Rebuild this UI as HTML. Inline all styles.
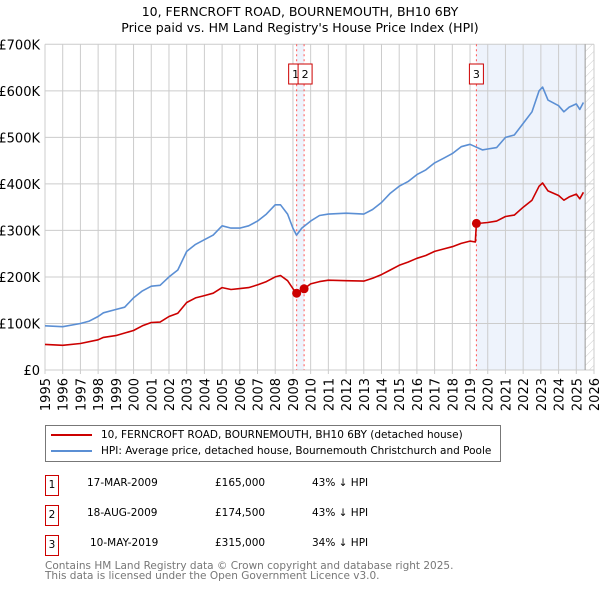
<!DOCTYPE html>
<html><head><meta charset="utf-8"><style>
body{margin:0;background:#fff;font-family:"DejaVu Sans","Liberation Sans",sans-serif;}
svg text{font-family:"DejaVu Sans","Liberation Sans",sans-serif;}
</style></head><body>
<svg id="c" width="600" height="590" xmlns="http://www.w3.org/2000/svg"></svg>
<script>
const hpiYears=[1995,1996,1997,1997.5,1998,1998.3,1999,1999.5,2000,2000.5,2001,2001.5,2002,2002.5,2003,2003.5,2004,2004.5,2005,2005.5,2006,2006.5,2007,2007.5,2008,2008.3,2008.7,2009,2009.2,2009.5,2010,2010.5,2011,2012,2013,2013.5,2014,2014.5,2015,2015.5,2016,2016.5,2017,2017.5,2018,2018.5,2019,2019.3,2019.7,2020,2020.5,2021,2021.5,2022,2022.5,2022.9,2023.1,2023.4,2024,2024.3,2024.6,2025,2025.2,2025.4];
const hpiValues=[95,93,100,105,115,123,130,135,155,170,180,182,200,215,255,270,280,290,310,305,305,310,320,335,355,355,335,305,290,305,320,332,335,337,335,345,360,380,395,405,420,430,445,455,465,480,485,480,473,475,478,500,505,530,555,600,608,580,568,555,565,572,560,575];
const paidYears=[1995,1996,1997,1998,1998.3,1999,2000,2000.5,2001,2001.5,2002,2002.5,2003,2003.5,2004,2004.5,2005,2005.5,2006,2006.5,2007,2007.5,2008,2008.3,2008.7,2009,2009.21,2009.63,2010,2010.5,2011,2012,2013,2013.5,2014,2014.5,2015,2015.5,2016,2016.5,2017,2017.5,2018,2018.5,2019,2019.3,2019.36,2019.7,2020,2020.5,2021,2021.5,2022,2022.5,2022.9,2023.1,2023.4,2024,2024.3,2024.6,2025,2025.2,2025.4];
const paidValues=[55,53,57,65,70,74,85,95,102,103,115,122,145,155,160,165,177,173,175,177,183,190,200,203,192,175,165,174.5,185,190,193,192,191,197,205,215,225,232,240,246,255,260,265,272,277,275,315,316,317,320,330,333,350,365,395,402,385,375,365,372,378,368,382];
const saleYears=[2009.21,2009.63,2019.36];
const saleValues=[165,174.5,315];
const saleLabels=["1","2","3"];
const yTicks=[0,100,200,300,400,500,600,700];
const yTickLabels=["£0","£100K","£200K","£300K","£400K","£500K","£600K","£700K"];
const xTicks=[1995,1996,1997,1998,1999,2000,2001,2002,2003,2004,2005,2006,2007,2008,2009,2010,2011,2012,2013,2014,2015,2016,2017,2018,2019,2020,2021,2022,2023,2024,2025,2026];

const NS="http://www.w3.org/2000/svg";
const svg=document.getElementById('c');
const X=y=>45+(y-1995)*(549/31);
const Y=v=>370-v*(325.7/700);
function el(tag,attrs,parent){const e=document.createElementNS(NS,tag);for(const k in attrs)e.setAttribute(k,attrs[k]);(parent||svg).appendChild(e);return e;}

let t=el('text',{x:300,y:16,'text-anchor':'middle','font-size':12.5});t.textContent="10, FERNCROFT ROAD, BOURNEMOUTH, BH10 6BY";


t=el('text',{x:300,y:32,'text-anchor':'middle','font-size':12.5});t.textContent="Price paid vs. HM Land Registry's House Price Index (HPI)";



let r=el('rect',{x:X(2019.36),y:Y(700),width:X(2025.5)-X(2019.36),height:Y(0)-Y(700),fill:'#eef3fc'});


r=el('rect',{x:X(saleYears[0]),y:Y(700),width:X(saleYears[1])-X(saleYears[0]),height:Y(0)-Y(700),fill:'#eef3fc'});


const defs=el('defs',{});
const pat=el('pattern',{id:'h',width:6,height:6,patternUnits:'userSpaceOnUse',patternTransform:'rotate(45)'},defs);
el('line',{x1:0,y1:0,x2:0,y2:6,stroke:'#ccc','stroke-width':1},pat);
r=el('rect',{x:X(2025.5),y:Y(700),width:X(2026)-X(2025.5),height:Y(0)-Y(700),fill:'url(#h)'});



yTicks.forEach((v,i)=>{
  const l=el('line',{x1:45,x2:X(2026),y1:Y(v),y2:Y(v),stroke:'#ccc'});
  
  
  const tx=el('text',{x:40,y:Y(v)+5,'text-anchor':'end','font-size':13});tx.textContent=yTickLabels[i];
  
  
});
xTicks.forEach(yr=>{
  const l=el('line',{x1:X(yr),x2:X(yr),y1:Y(700),y2:Y(0)+4,stroke:'#ccc'});
  
  
  const tx=el('text',{x:0,y:0,'text-anchor':'end','font-size':13,transform:`translate(${X(yr)+5},${Y(0)+8}) rotate(-90)`});tx.textContent=yr;
  
  
});
const bl=el('line',{x1:X(2025.5),x2:X(2025.5),y1:Y(700),y2:Y(0),stroke:'#999'});



saleYears.forEach((yr,i)=>{
  const l=el('line',{x1:X(yr),x2:X(yr),y1:Y(700),y2:Y(0),stroke:'#f55','stroke-dasharray':'2,3'});
  
  
});
const boxX=[X(saleYears[0])-8,X(saleYears[1])-6,X(saleYears[2])-7];
saleLabels.forEach((s,i)=>{
  const g=el('g',{});
  
  
  el('rect',{x:boxX[i],y:64,width:14,height:20,fill:'#fff',stroke:'#c00'},g);
  const tx=el('text',{x:boxX[i]+7,y:78,'text-anchor':'middle','font-size':11},g);tx.textContent=s;
});

function line(xs,vs,color,name){
  const p=el('polyline',{points:xs.map((x,i)=>X(x).toFixed(1)+','+Y(vs[i]).toFixed(1)).join(' '),fill:'none',stroke:color,'stroke-width':1.6,'stroke-linejoin':'round'});
  
  
}
line(hpiYears,hpiValues,'#5b8fd4','hpi-line');
line(paidYears,paidValues,'#cc0000','price-paid-line');
saleYears.forEach((yr,i)=>{
  const c=el('circle',{cx:X(yr),cy:Y(saleValues[i]),r:4.5,fill:'#cc0000'});
  
  
});
</script>
<div style="position:absolute;left:45px;top:425px;width:454px;height:35px;border:1px solid #777;font-size:10.5px;">
  <div style="position:absolute;left:5px;top:3px;white-space:nowrap"><span style="display:inline-block;width:41px;height:2px;background:#cc0000;vertical-align:middle;margin-right:9px"></span>10, FERNCROFT ROAD, BOURNEMOUTH, BH10 6BY (detached house)</div>
  <div style="position:absolute;left:5px;top:19px;white-space:nowrap"><span style="display:inline-block;width:41px;height:2px;background:#5b8fd4;vertical-align:middle;margin-right:9px"></span>HPI: Average price, detached house, Bournemouth Christchurch and Poole</div>
</div>
<div style="position:absolute;left:45px;top:475px;font-size:10.5px;">
  <div style="position:absolute;top:0;white-space:nowrap">
    <span style="position:absolute;left:0;width:12px;height:19px;border:1px solid #c00;text-align:center;line-height:19px">1</span>
    <span style="position:absolute;left:42px;top:2px">17-MAR-2009</span><span style="position:absolute;left:170px;top:2px">£165,000</span><span style="position:absolute;left:267px;top:2px">43% ↓ HPI</span></div>
  <div style="position:absolute;top:30px;white-space:nowrap">
    <span style="position:absolute;left:0;width:12px;height:19px;border:1px solid #c00;text-align:center;line-height:19px">2</span>
    <span style="position:absolute;left:42px;top:2px">18-AUG-2009</span><span style="position:absolute;left:170px;top:2px">£174,500</span><span style="position:absolute;left:267px;top:2px">43% ↓ HPI</span></div>
  <div style="position:absolute;top:60px;white-space:nowrap">
    <span style="position:absolute;left:0;width:12px;height:19px;border:1px solid #c00;text-align:center;line-height:19px">3</span>
    <span style="position:absolute;left:45px;top:2px">10-MAY-2019</span><span style="position:absolute;left:170px;top:2px">£315,000</span><span style="position:absolute;left:267px;top:2px">34% ↓ HPI</span></div>
</div>
<div style="position:absolute;left:45px;top:561px;font-size:10.5px;color:#777;line-height:10px;white-space:nowrap">Contains HM Land Registry data © Crown copyright and database right 2025.<br>This data is licensed under the Open Government Licence v3.0.</div>
</body></html>
